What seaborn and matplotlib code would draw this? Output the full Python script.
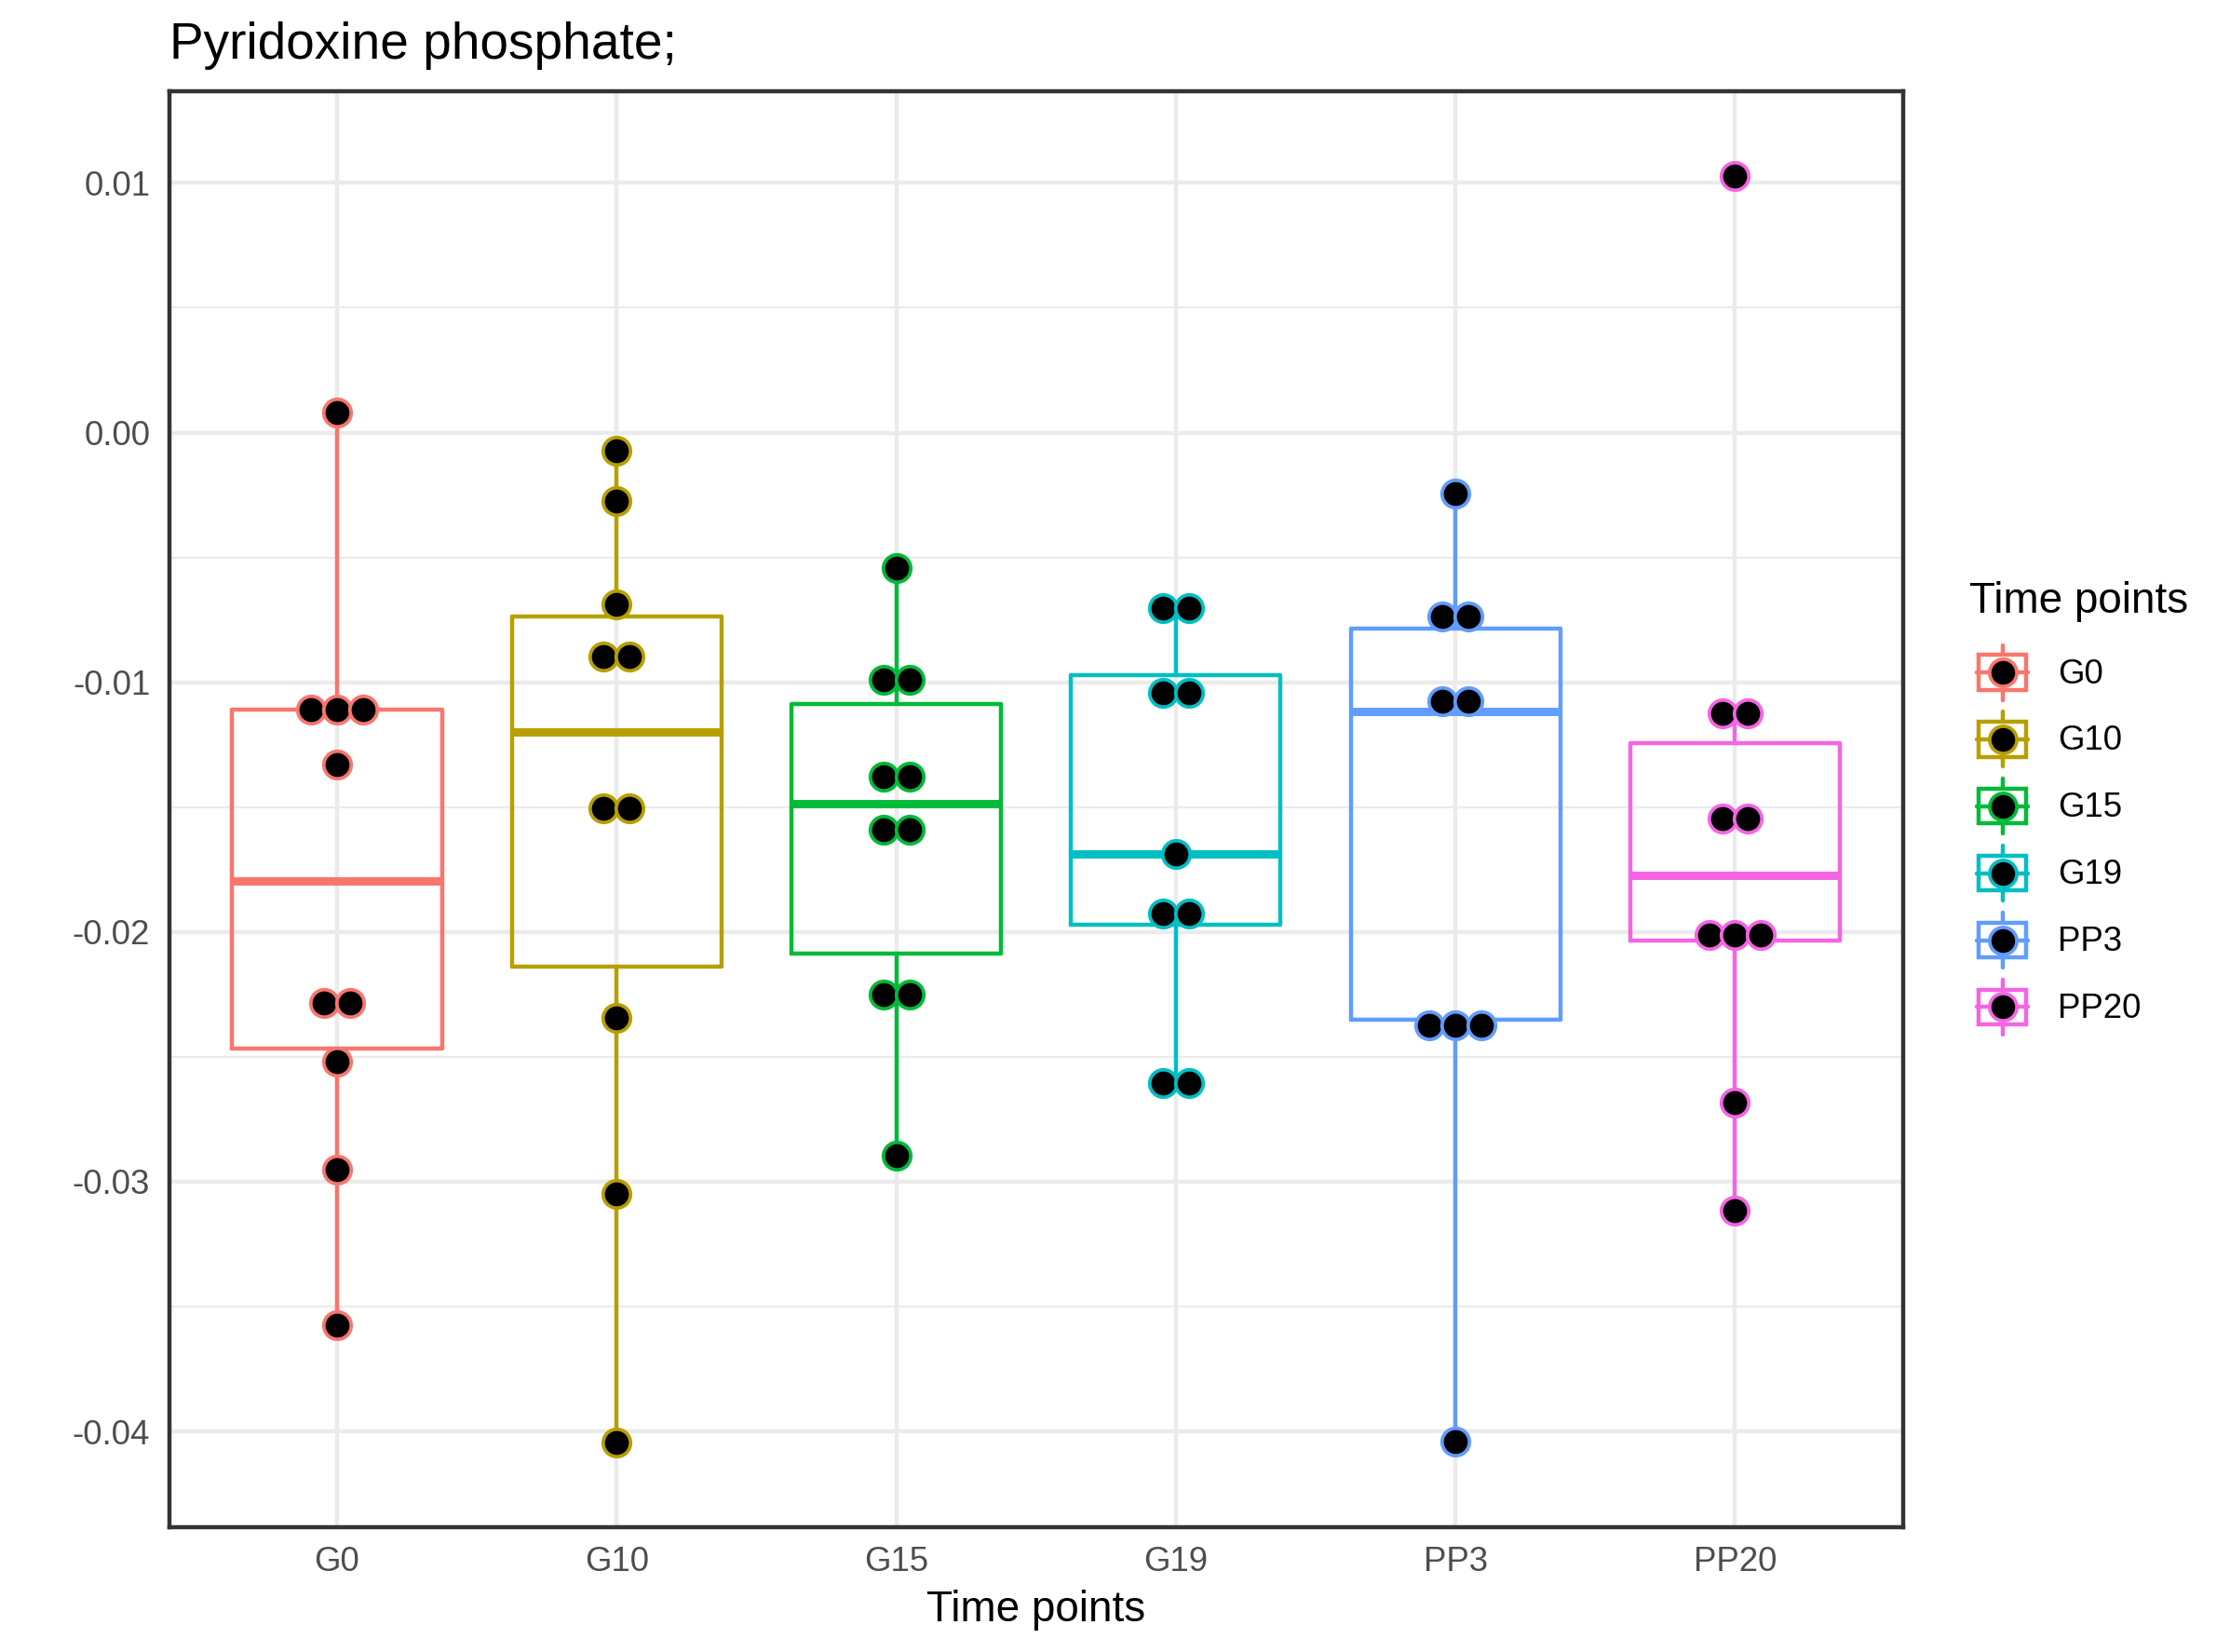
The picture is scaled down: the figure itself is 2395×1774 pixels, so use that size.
import numpy as np
import pandas as pd
import matplotlib
matplotlib.use("Agg")
import matplotlib.pyplot as plt
import seaborn as sns
from matplotlib.patches import Rectangle, Patch
from matplotlib.lines import Line2D

# ====================================
# DATA
# ====================================
time_points = ["G0", "G10", "G15", "G19", "PP3", "PP20"]
palette = ["#F8766D", "#B79F00", "#00BA38", "#00BFC4", "#619CFF", "#F564E3"]

g0 = [-0.03573, -0.02952, -0.02519, -0.02311, -0.02259, -0.01331, -0.0111, -0.0111, -0.0111, 0.0008]
g10 = [-0.04046, -0.03048, -0.02342, -0.01522, -0.01486, -0.00908, -0.00882, -0.00689, -0.00274, -0.00074]
g15 = [-0.02895, -0.02251, -0.02251, -0.0159, -0.0159, -0.01379, -0.01379, -0.00991, -0.00991, -0.00541]
g19 = [-0.02604, -0.02604, -0.0197, -0.0188, -0.01687, -0.01116, -0.0097, -0.00701, -0.00701]
pp3 = [-0.0404, -0.0240, -0.02353, -0.0235, -0.01117, -0.01037, -0.00786, -0.00684, -0.00245]
pp20 = [-0.03117, -0.02684, -0.02048, -0.01992, -0.01974, -0.0157, -0.0152, -0.0115, -0.0110, 0.01026]

y_ticks = [-0.04, -0.03, -0.02, -0.01, 0.00, 0.01]
y_tick_labels = ["-0.04", "-0.03", "-0.02", "-0.01", "0.00", "0.01"]

groups = [g0, g10, g15, g19, pp3, pp20]
df = pd.concat(
    [pd.DataFrame({"time": t, "value": v}) for t, v in zip(time_points, groups)],
    ignore_index=True,
)

# ====================================
# STYLE
# ====================================
sns.set_style("white")
plt.rcParams["font.family"] = ["Liberation Sans", "DejaVu Sans"]
plt.rcParams["text.color"] = "black"

lw = 1.07
grey20 = "#333333"
grey30 = "#4D4D4D"
grid_col = "#EBEBEB"

fig = plt.figure(figsize=(2395 / 300, 1774 / 300), dpi=300)
ax = fig.add_axes([0.0759, 0.0758, 0.8533 - 0.0759, 0.9449 - 0.0758])

# grid (ggplot theme_bw look)
for v in y_ticks:
    ax.axhline(v, color=grid_col, lw=lw, zorder=0)
for v in np.arange(-0.035, 0.01, 0.01):
    ax.axhline(v, color=grid_col, lw=lw / 2, zorder=0)
for i in range(len(time_points)):
    ax.axvline(i, color=grid_col, lw=lw, zorder=0)

sns.boxplot(
    data=df, x="time", y="value", hue="time",
    order=time_points, hue_order=time_points, palette=palette,
    fill=False, width=0.75, linewidth=lw, showcaps=False, showfliers=False,
    whis=1.5, medianprops={"linewidth": lw * 2}, legend=False, ax=ax,
)


# dotplot-style binning, centered stacks
def dot_bins(vals, binwidth):
    vals = np.sort(np.asarray(vals))
    out = []
    i = 0
    while i < len(vals):
        j = i
        while j + 1 < len(vals) and vals[j + 1] - vals[i] < binwidth:
            j += 1
        center = (vals[i] + vals[j]) / 2
        n = j - i + 1
        for k in range(n):
            out.append((center, k - (n - 1) / 2))
        i = j + 1
    return out


binwidth = (df["value"].max() - df["value"].min()) / 30
dot_step = 0.093
for idx, (t, col) in enumerate(zip(time_points, palette)):
    pts = dot_bins(df.loc[df["time"] == t, "value"], binwidth)
    xs = [idx + off * dot_step for _, off in pts]
    ys = [c for c, _ in pts]
    ax.scatter(xs, ys, s=50, c="black", edgecolors=col, linewidths=0.9, zorder=5)

ax.set_xlim(-0.6, 5.6)
ax.set_ylim(-0.04382, 0.01368)
ax.set_yticks(y_ticks)
ax.set_yticklabels(y_tick_labels)
ax.set_xlabel("Time points", fontsize=11, color="black", labelpad=2.75)
ax.set_ylabel("")
ax.tick_params(axis="both", length=2.75, width=lw, color=grey20,
               labelsize=8.8, labelcolor=grey30, pad=2.2)
for spine in ax.spines.values():
    spine.set_visible(True)
    spine.set_color(grey20)
    spine.set_linewidth(lw)

fig.text(0.0759, 0.9645, "Pyridoxine phosphate;", fontsize=13.2,
         color="black", ha="left", va="baseline")


# ====================================
# LEGEND (box + dot keys)
# ====================================
class BoxKeyHandler:
    def legend_artist(self, legend, orig_handle, fontsize, handlebox):
        x0, y0 = -handlebox.xdescent, -handlebox.ydescent
        w, h = handlebox.width, handlebox.height
        col = orig_handle.get_edgecolor()
        tr = handlebox.get_transform()
        cx, cy = x0 + w / 2, y0 + h / 2
        whisk = Line2D([cx, cx], [y0, y0 + h], color=col, lw=lw, transform=tr)
        box = Rectangle((x0 + lw / 2, y0 + 0.185 * h), w - lw, 0.63 * h,
                        facecolor="white", edgecolor=col, lw=lw, transform=tr)
        med = Line2D([x0, x0 + w], [cy, cy], color=col, lw=lw, transform=tr)
        dot = Line2D([cx], [cy], marker="o", ms=7, mfc="black", mec=col,
                     mew=0.9, linestyle="none", transform=tr)
        for a in (whisk, box, med, dot):
            handlebox.add_artist(a)
        return box


fig.text(0.8831, 0.629, "Time points", fontsize=11, color="black",
         ha="left", va="baseline")

handles = [Patch(edgecolor=c, facecolor="white") for c in palette]
leg = fig.legend(
    handles, time_points,
    handler_map={Patch: BoxKeyHandler()},
    loc="center left", bbox_to_anchor=(0.8865, 0.4917),
    frameon=False, fontsize=8.8, labelcolor="black",
    handlelength=1.5, handleheight=2.1, labelspacing=0.35,
    handletextpad=0.87, borderpad=0, borderaxespad=0,
)

plt.savefig("out.png", dpi=300)
